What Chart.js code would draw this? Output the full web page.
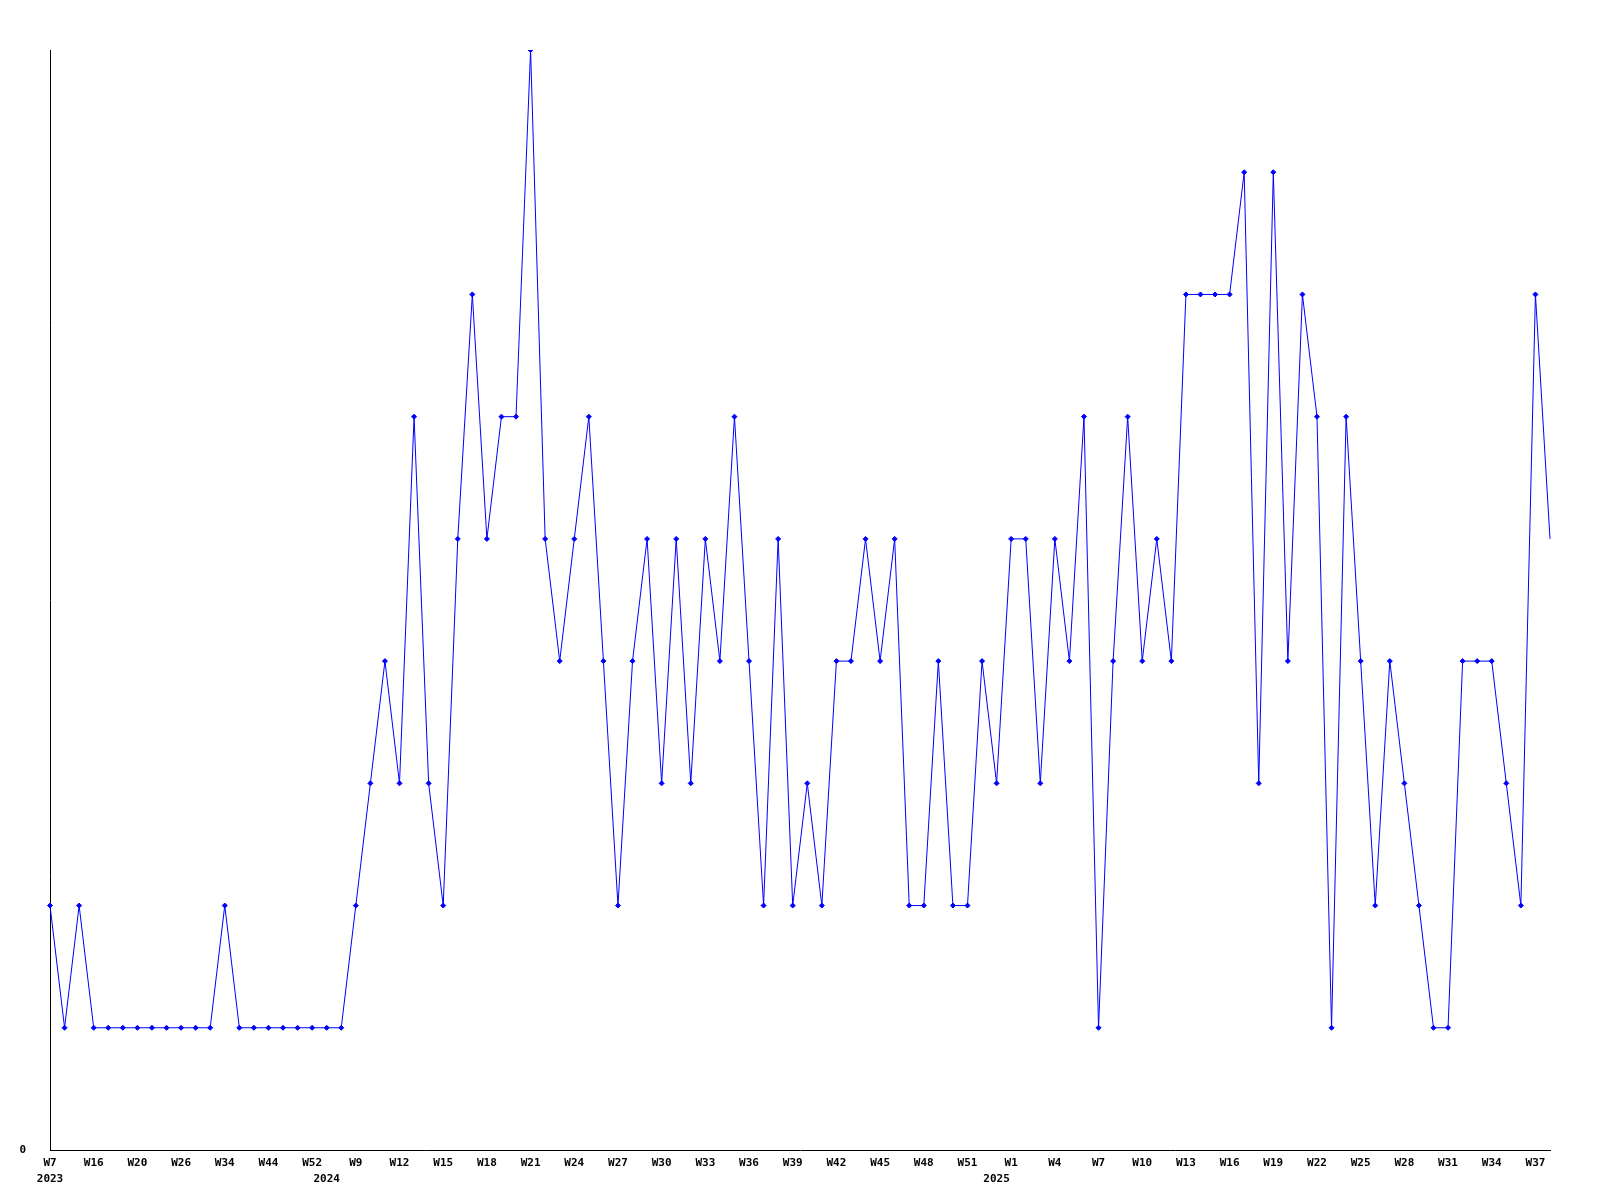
<!DOCTYPE html>
<html>
<head>
<meta charset="utf-8">
<script src="https://cdn.jsdelivr.net/npm/chart.js@4/dist/chart.umd.min.js"></script>
<style>
  html, body { margin: 0; padding: 0; background: #fff; }
  #wrap { width: 1600px; height: 1200px; }
</style>
</head>
<body>
<div id="wrap"><canvas id="weekChart" width="1600" height="1200"></canvas></div>
<script>
// week labels (only every 3rd one is printed on the axis)
const weeks = [
  'W7', 'W10', 'W13', 'W16', 'W17', 'W18', 'W20', 'W22', 'W24', 'W26',
  'W28', 'W31', 'W34', 'W37', 'W40', 'W44', 'W47', 'W50', 'W52',
  'W3', 'W8', 'W9', 'W10', 'W11', 'W12', 'W13', 'W14', 'W15', 'W16', 'W17',
  'W18', 'W19', 'W20', 'W21', 'W22', 'W23', 'W24', 'W25', 'W26', 'W27',
  'W28', 'W29', 'W30', 'W31', 'W32', 'W33', 'W34', 'W35', 'W36', 'W37',
  'W38', 'W39', 'W40', 'W41', 'W42', 'W43', 'W44', 'W45', 'W46', 'W47',
  'W48', 'W49', 'W50', 'W51', 'W52',
  'W0', 'W1', 'W2', 'W3', 'W4', 'W5', 'W6', 'W7', 'W8', 'W9',
  'W10', 'W11', 'W12', 'W13', 'W14', 'W15', 'W16', 'W17', 'W18', 'W19',
  'W20', 'W21', 'W22', 'W23', 'W24', 'W25', 'W26', 'W27', 'W28', 'W29',
  'W30', 'W31', 'W32', 'W33', 'W34', 'W35', 'W36', 'W37', 'W38'
];

// year of each point: 19 points in 2023, 46 in 2024, the rest in 2025
const years = [];
for (let i = 0; i < weeks.length; i++) {
  years.push(i < 19 ? '2023' : (i < 65 ? '2024' : '2025'));
}

const counts = [
  2, 1, 2, 1, 1, 1, 1, 1, 1, 1,
  1, 1, 2, 1, 1, 1, 1, 1, 1, 1,
  1, 2, 3, 4, 3, 6, 3, 2, 5, 7,
  5, 6, 6, 9, 5, 4, 5, 6, 4, 2,
  4, 5, 3, 5, 3, 5, 4, 6, 4, 2,
  5, 2, 3, 2, 4, 4, 5, 4, 5, 2,
  2, 4, 2, 2, 4, 3, 5, 5, 3, 5,
  4, 6, 1, 4, 6, 4, 5, 4, 7, 7,
  7, 7, 8, 3, 8, 4, 7, 6, 1, 6,
  4, 2, 4, 3, 2, 1, 1, 4, 4, 4,
  3, 2, 7, 5
];

const labelFont = { family: 'DejaVu Sans Mono', size: 11, weight: 'bold', lineHeight: 16 / 11 };

const ctx = document.getElementById('weekChart').getContext('2d');
const weekChart = new Chart(ctx, {
  type: 'line',
  data: {
    labels: weeks,
    datasets: [{
      data: counts,
      borderColor: '#0000ff',
      backgroundColor: '#0000ff',
      borderWidth: 1,
      tension: 0,
      fill: false,
      pointStyle: 'rectRot',
      // the last week has no marker in the original
      pointRadius: (c) => (c.dataIndex === counts.length - 1 ? 0 : 2.5),
      pointBorderWidth: 1,
      pointBorderColor: '#0000ff',
      pointBackgroundColor: '#0000ff'
    }]
  },
  plugins: [{
    id: 'whiteBg',
    beforeDraw(chart) {
      const c = chart.ctx;
      c.save();
      c.fillStyle = '#fff';
      c.fillRect(0, 0, chart.width, chart.height);
      c.restore();
    }
  }],
  options: {
    responsive: false,
    animation: false,
    layout: { padding: { top: 50, right: 50, left: 0, bottom: 0 } },
    plugins: {
      legend: { display: false },
      tooltip: { enabled: false }
    },
    scales: {
      x: {
        offset: false,
        grid: { display: false },
        border: { display: true, color: '#000', width: 1 },
        afterFit(scale) { scale.height = 50; },
        ticks: {
          autoSkip: false,
          maxRotation: 0,
          minRotation: 0,
          padding: -3,
          color: '#000',
          font: labelFont,
          callback(value, index) {
            const newYear = index === 0 || years[index] !== years[index - 1];
            const showWeek = index % 3 === 0;
            if (showWeek && newYear) return [weeks[index], years[index]];
            if (showWeek) return weeks[index];
            if (newYear) return ['', years[index]];
            return '';
          }
        }
      },
      y: {
        min: 0,
        max: 9,
        grid: { display: false },
        border: { display: true, color: '#000', width: 1 },
        afterFit(scale) { scale.width = 50; },
        afterBuildTicks(scale) { scale.ticks = [{ value: 0 }]; },
        ticks: {
          padding: 16,
          color: '#000',
          font: labelFont
        }
      }
    }
  }
});
</script>
</body>
</html>
